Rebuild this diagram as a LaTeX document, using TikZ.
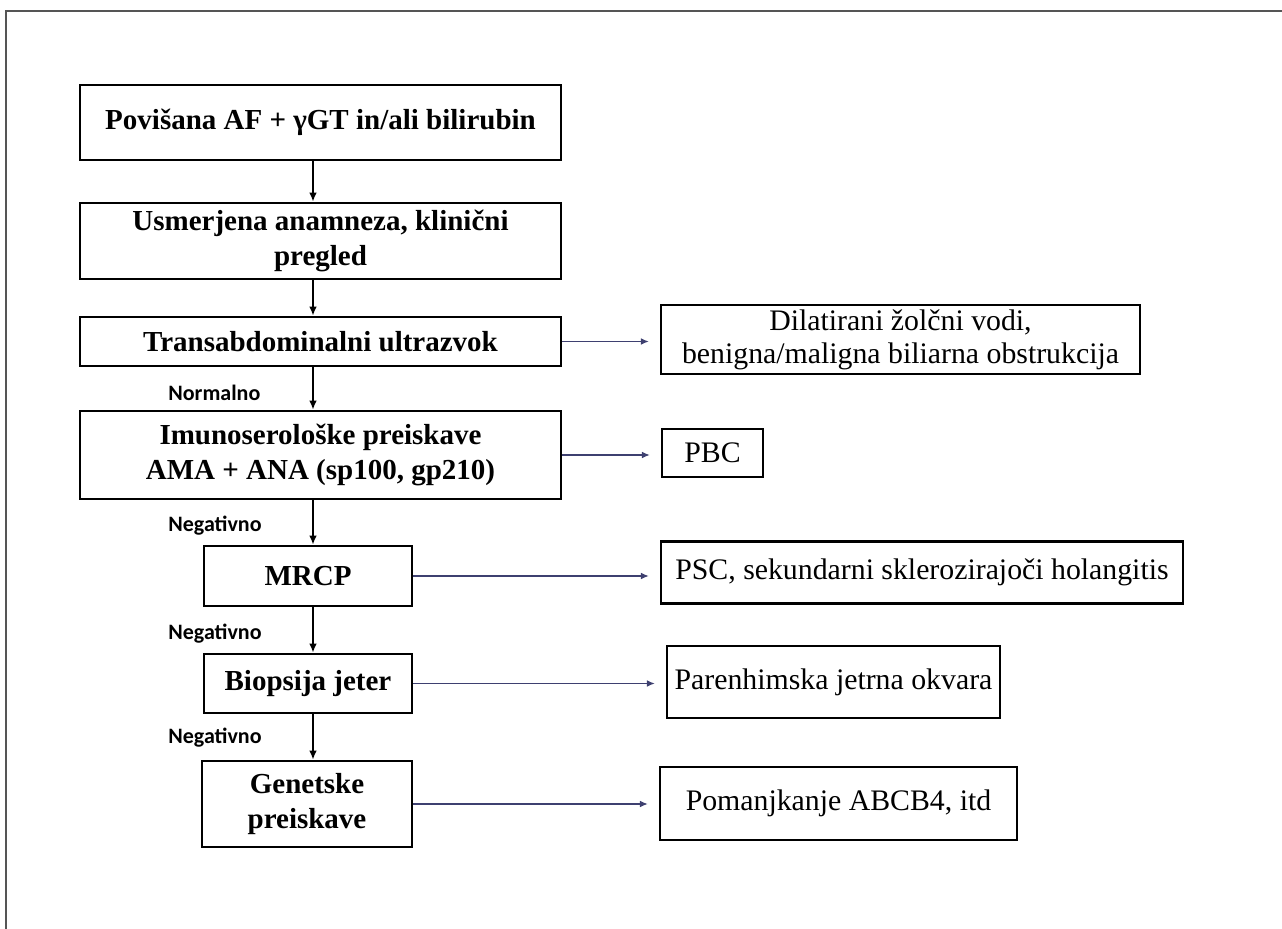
\documentclass[tikz,border=0pt]{standalone}
\usepackage{fontspec}
\setmainfont{Liberation Serif}
\newfontfamily\lblfont{Carlito}
\usetikzlibrary{arrows.meta}
\definecolor{sidecol}{RGB}{62,64,112}
\definecolor{framecol}{RGB}{85,85,85}

\begin{document}
\begin{tikzpicture}[x=0.5pt,y=-0.5pt,
		mainbox/.style={draw,line width=1.3pt,align=center,inner sep=0pt,font=\fontsize{14.5}{17.5}\selectfont\bfseries},
		sidebox/.style={draw,line width=1.1pt,align=center,inner sep=0pt,font=\fontsize{14.9}{16.5}\selectfont},
		down/.style={-{Latex[length=4.5pt,width=3.8pt]},line width=0.9pt},
		side/.style={-{Latex[length=4pt,width=3.4pt]},line width=0.75pt,draw=sidecol,shorten >=5.5pt},
		lbl/.style={anchor=west,inner sep=0pt,font=\lblfont\fontsize{11}{13}\selectfont\bfseries}]
			\useasboundingbox (0,0) rectangle (1282,929);
			\draw[framecol,line width=1pt] (6,929) -- (6,11) -- (1282,11);
			
			% main column
			\node[mainbox,minimum width=240.5pt,minimum height=37.5pt] (povisana) at (320.5,122.5) {Povišana AF + γGT in/ali bilirubin};
			\node[mainbox,minimum width=240.5pt,minimum height=38pt] (usmerjena) at (320.5,241) {Usmerjena anamneza, klinični\\pregled};
			\node[mainbox,minimum width=240.5pt,minimum height=24.5pt] (trans) at (320.5,341.5) {Transabdominalni ultrazvok};
			\node[mainbox,minimum width=240.5pt,minimum height=44pt] (imuno) at (320.5,455) {Imunoserološke preiskave\\AMA + ANA (sp100, gp210)};
			\node[mainbox,minimum width=104pt,minimum height=30pt] (mrcp) at (308,576) {MRCP};
			\node[mainbox,minimum width=104pt,minimum height=29.5pt] (biopsija) at (308,683.5) {Biopsija jeter};
			\node[mainbox,minimum width=105pt,minimum height=43pt] (genetske) at (307,804) {Genetske\\preiskave};
			
			% results
			\node[sidebox,minimum width=239.5pt,minimum height=34.5pt] (dilat) at (900.5,339.5) {Dilatirani žolčni vodi,\\benigna/maligna biliarna obstrukcija};
			\node[sidebox,minimum width=50.5pt,minimum height=24pt] (pbc) at (712.5,453) {PBC};
			\node[sidebox,minimum width=261pt,minimum height=31pt] (psc) at (922,572.5) {PSC, sekundarni sklerozirajoči holangitis};
			\node[sidebox,minimum width=166.5pt,minimum height=36pt] (parenh) at (833.5,682) {Parenhimska jetrna okvara};
			\node[sidebox,minimum width=178.5pt,minimum height=36.5pt] (pomanj) at (838.5,803.5) {Pomanjkanje ABCB4, itd};
			
			\coordinate (col) at (313,0);
			\foreach \a/\b in {povisana/usmerjena,usmerjena/trans,trans/imuno,imuno/mrcp,mrcp/biopsija,biopsija/genetske} {
				\draw[down] (\a.south -| col) -- (\b.north -| col);
			}
			\foreach \a/\b in {trans/dilat,imuno/pbc,mrcp/psc,biopsija/parenh,genetske/pomanj} {
				\draw[side] (\a.east) -- (\a.east -| \b.west);
			}
			
			\foreach \n/\y/\t in {lnorm/393/Normalno,lneg1/526/Negativno,lneg2/634/Negativno,lneg3/738/Negativno} {
				\node[lbl] (\n) at (168,\y) {\t};
			}
		\end{tikzpicture}
\end{document}
